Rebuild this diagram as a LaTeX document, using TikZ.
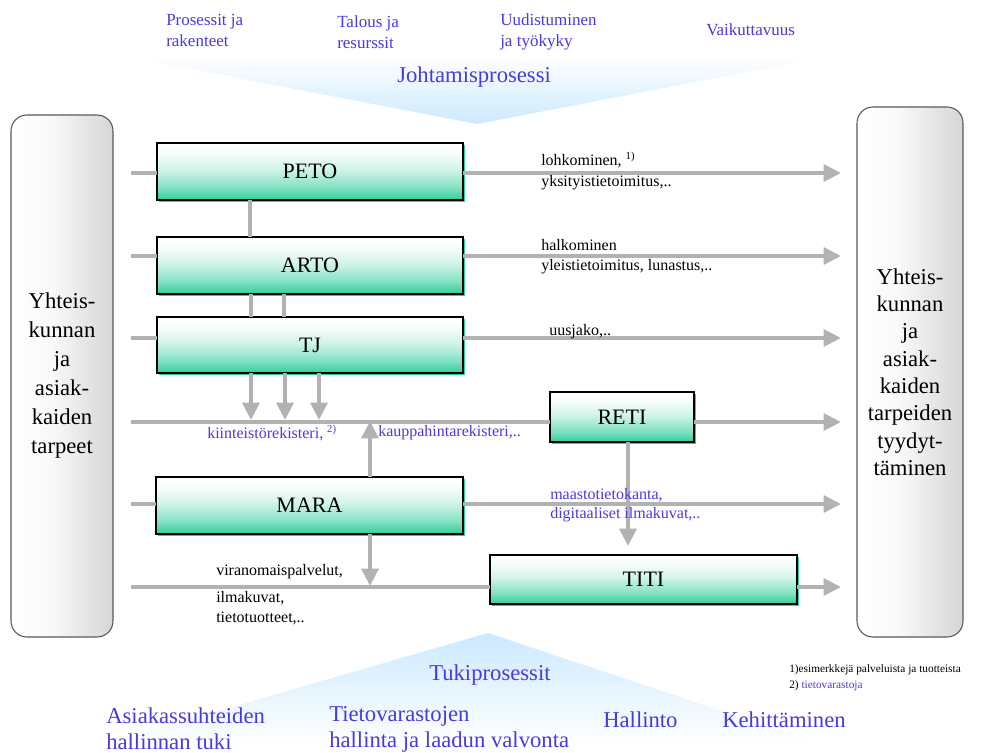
\documentclass[tikz,border=0pt]{standalone}
\usepackage{fontspec}
\setmainfont{Liberation Serif}
\usetikzlibrary{arrows.meta,shadows}
\definecolor{conngray}{RGB}{178,178,178}
\definecolor{boxgreen}{RGB}{46,206,156}
\definecolor{txtblue}{RGB}{72,58,222}
\definecolor{wedgeblue}{RGB}{204,233,255}
\definecolor{sidegray}{RGB}{214,214,214}
\pgfdeclareverticalshading{procshade}{100bp}{color(0bp)=(boxgreen); color(25bp)=(boxgreen); color(36bp)=(boxgreen!60); color(52bp)=(boxgreen!22); color(66bp)=(boxgreen!4); color(75bp)=(white); color(100bp)=(white)}
\pgfdeclarehorizontalshading{sideshade}{100bp}{color(0bp)=(white); color(25bp)=(white); color(45bp)=(white!85!sidegray); color(75bp)=(sidegray); color(100bp)=(sidegray)}
\begin{document}
\begin{tikzpicture}[x=0.75pt,y=-0.75pt,
  procbox/.style={draw=black, line width=0.9pt, rectangle, inner sep=0pt, outer sep=0pt,
    shading=procshade, font=\fontsize{16.5}{19}\selectfont,
    drop shadow={shadow xshift=1.8pt, shadow yshift=-1.8pt, fill=boxgreen, opacity=1}},
  sidebox/.style={draw=black!65, line width=0.8pt, rounded corners=12pt, inner sep=0pt, outer sep=0pt,
    shading=sideshade, align=center},
  conn/.style={draw=conngray, line width=3pt},
  arr/.style={conn, -{Triangle[length=13pt,width=12.5pt]}},
  lbl/.style={font=\fontsize{12}{14}\selectfont, inner sep=0pt, anchor=west, text=black},
  blbl/.style={lbl, text=txtblue},
  toplbl/.style={font=\fontsize{12.75}{15.75}\selectfont, inner sep=0pt, anchor=west, align=left, text=txtblue},
  biglbl/.style={font=\fontsize{17}{19.5}\selectfont, inner sep=0pt, anchor=west, align=left, text=txtblue},
  notelbl/.style={font=\fontsize{8.5}{10}\selectfont, inner sep=0pt, anchor=west}
]
\useasboundingbox (0,0) rectangle (985,753);

% wedges
\shade[top color=white, bottom color=wedgeblue] (128,57) -- (826,57) -- (477,124) -- cycle;
\shade[top color=wedgeblue, bottom color=white] (488,633) -- (815,742) -- (100,745) -- cycle;

% top texts
\node[toplbl] (t1) at (166,30) {Prosessit ja\\rakenteet};
\node[toplbl] (t2) at (337,32) {Talous ja\\resurssit};
\node[toplbl] (t3) at (500,32) {Uudistuminen\\ja työkyky};
\node[toplbl] (t4) at (706,30) {Vaikuttavuus};
\node[biglbl] (johto) at (397,77) {Johtamisprosessi};

% side boxes
\node[sidebox, minimum width=76.5pt, minimum height=391.5pt, font=\fontsize{17}{21.75}\selectfont]
  (left) at (62,376) {Yhteis-\\kunnan\\ja\\asiak-\\kaiden\\tarpeet};
\node[sidebox, minimum width=79.5pt, minimum height=397.5pt, font=\fontsize{17}{20.5}\selectfont]
  (right) at (910,372) {Yhteis-\\kunnan\\ja\\asiak-\\kaiden\\tarpeiden\\tyydyt-\\täminen};

% process boxes
\node[procbox, minimum width=229.5pt, minimum height=42.75pt] (peto) at (310,171.5) {PETO};
\node[procbox, minimum width=229.5pt, minimum height=42.75pt] (arto) at (310,265.5) {ARTO};
\node[procbox, minimum width=229.5pt, minimum height=42pt] (tj) at (310,345) {TJ};
\node[procbox, minimum width=108pt, minimum height=37.5pt] (reti) at (622,417) {RETI};
\node[procbox, minimum width=230.25pt, minimum height=42.75pt] (mara) at (309.5,505.5) {MARA};
\node[procbox, minimum width=230.25pt, minimum height=36.75pt] (titi) at (643.5,579.5) {TITI};

% row coordinates
\coordinate (s1) at (131,173); \coordinate (e1) at (841,173);
\coordinate (s2) at (131,256); \coordinate (e2) at (841,256);
\coordinate (s3) at (131,338); \coordinate (e3) at (841,338);
\coordinate (s4) at (131,422); \coordinate (e4) at (841,422);
\coordinate (s5) at (131,504); \coordinate (e5) at (841,504);
\coordinate (s6) at (131,587); \coordinate (e6) at (841,587);

% horizontal flows
\draw[conn] (s1) -- (s1 -| peto.west);
\draw[arr] (s1 -| peto.east) -- (e1);
\draw[conn] (s2) -- (s2 -| arto.west);
\draw[arr] (s2 -| arto.east) -- (e2);
\draw[conn] (s3) -- (s3 -| tj.west);
\draw[arr] (s3 -| tj.east) -- (e3);
\draw[conn] (s4) -- (s4 -| reti.west);
\draw[arr] (s4 -| reti.east) -- (e4);
\draw[conn] (s5) -- (s5 -| mara.west);
\draw[arr] (s5 -| mara.east) -- (e5);
\draw[conn] (s6) -- (s6 -| titi.west);
\draw[arr] (s6 -| titi.east) -- (e6);

% vertical links
\draw[conn] (250,0 |- peto.south) -- (250,0 |- arto.north);
\draw[conn] (251,0 |- arto.south) -- (251,0 |- tj.north);
\draw[conn] (284,0 |- arto.south) -- (284,0 |- tj.north);

\coordinate (d1) at (251,420);
\coordinate (d2) at (285,420);
\coordinate (d3) at (319,420);
\draw[arr] (d1 |- tj.south) -- (d1);
\draw[arr] (d2 |- tj.south) -- (d2);
\draw[arr] (d3 |- tj.south) -- (d3);

\coordinate (u1) at (370,421);
\coordinate (u2) at (370,586);
\coordinate (r1) at (628,546);
\draw[arr] (u1 |- mara.north) -- (u1);
\draw[arr] (u2 |- mara.south) -- (u2);
\draw[arr] (r1 |- reti.south) -- (r1);

% flow labels
\node[lbl] (a1) at (541,160) {lohkominen, \textsuperscript{1)}};
\node[lbl] (a2) at (541,183) {yksityistietoimitus,..};
\node[lbl] (b1) at (541,245) {halkominen};
\node[lbl] (b2) at (541,267) {yleistietoimitus, lunastus,..};
\node[lbl] (c1) at (549,332) {uusjako,..};
\node[blbl] (k1) at (207,433) {kiinteistörekisteri, \textsuperscript{2)}};
\node[blbl] (k2) at (378,433) {kauppahintarekisteri,..};
\node[blbl] (m1) at (550,495) {maastotietokanta,};
\node[blbl] (m2) at (550,515) {digitaaliset ilmakuvat,..};
\node[lbl] (v1) at (216,572) {viranomaispalvelut,};
\node[lbl] (v2) at (216,598) {ilmakuvat,};
\node[lbl] (v3) at (216,618) {tietotuotteet,..};

% bottom texts
\node[biglbl] (tuki) at (429,675) {Tukiprosessit};
\node[biglbl] (bb1) at (106,729) {Asiakassuhteiden\\hallinnan tuki};
\node[biglbl] (bb2) at (329,729) {Tietovarastojen\\hallinta ja laadun valvonta};
\node[biglbl] (bb3) at (603,720) {Hallinto};
\node[biglbl] (bb4) at (722,720) {Kehittäminen};

% footnotes
\node[notelbl] (n1) at (789,670) {1)esimerkkejä palveluista ja tuotteista};
\node[notelbl, text=txtblue] (n2) at (789,686) {\textcolor{black}{2)} tietovarastoja};
\end{tikzpicture}
\end{document}
